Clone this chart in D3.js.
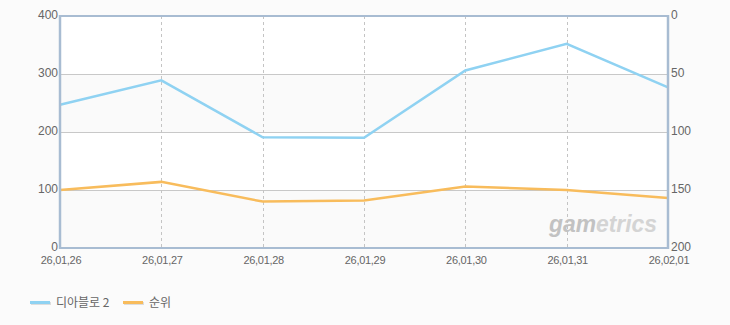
<!DOCTYPE html>
<html>
<head>
<meta charset="utf-8">
<script src="https://cdn.jsdelivr.net/npm/d3@7"></script>
<style>
  body { margin: 0; background: #fbfbfb; }
  svg { display: block; font-family: "Liberation Sans", Arial, sans-serif; }
</style>
</head>
<body>
<svg width="730" height="325"></svg>
<script>
// chart data
var dates = ["26,01,26", "26,01,27", "26,01,28", "26,01,29", "26,01,30", "26,01,31", "26,02,01"];
var players = [247, 289, 191, 190, 306, 352, 277];   // left axis
var ranks = [150, 143, 160, 159, 147, 150, 157];     // right axis (reversed)
var leftTicks = [0, 100, 200, 300, 400];
var rightTicks = [0, 50, 100, 150, 200];
var seriesNames = ["디아블로 2", "순위"];

var svg = d3.select("svg");

var margin = { top: 16, right: 62, bottom: 77, left: 60 };
var plotWidth = 730 - margin.left - margin.right;
var plotHeight = 325 - margin.top - margin.bottom;

var x = d3.scalePoint().domain(dates).range([0, plotWidth]);
var yLeft = d3.scaleLinear().domain([0, 400]).range([plotHeight, 0]);
var yRight = d3.scaleLinear().domain([0, 200]).range([0, plotHeight]);

var plot = svg.append("g")
  .attr("transform", "translate(" + margin.left + "," + margin.top + ")");

// background + alternating bands
plot.append("rect").attr("width", plotWidth).attr("height", plotHeight).attr("fill", "#fff");
for (var i = 0; i < leftTicks.length - 1; i += 2) {
  plot.append("rect")
    .attr("x", 0).attr("width", plotWidth)
    .attr("y", yLeft(leftTicks[i + 1]))
    .attr("height", yLeft(leftTicks[i]) - yLeft(leftTicks[i + 1]))
    .attr("fill", "#fafafa");
}

// horizontal grid
plot.selectAll("line.hgrid").data(leftTicks.slice(1, -1)).enter().append("line")
  .attr("class", "hgrid")
  .attr("x1", 0).attr("x2", plotWidth)
  .attr("y1", function(d) { return Math.round(yLeft(d)) + 0.5; })
  .attr("y2", function(d) { return Math.round(yLeft(d)) + 0.5; })
  .attr("stroke", "#c8c8c8");

// vertical dashed grid
plot.selectAll("line.vgrid").data(dates.slice(1, -1)).enter().append("line")
  .attr("class", "vgrid")
  .attr("x1", function(d) { return Math.round(x(d)) + 0.5; })
  .attr("x2", function(d) { return Math.round(x(d)) + 0.5; })
  .attr("y1", 0).attr("y2", plotHeight)
  .attr("stroke", "#c4c4c4")
  .attr("stroke-dasharray", "3,3");

// watermark
var wm = plot.append("text")
  .attr("x", plotWidth - 11).attr("y", plotHeight - 16)
  .attr("text-anchor", "end")
  .attr("font-size", 24).attr("font-weight", "bold").attr("font-style", "italic")
  .attr("textLength", 108).attr("lengthAdjust", "spacingAndGlyphs");
wm.append("tspan").attr("fill", "#c2c2c2").text("gam");
wm.append("tspan").attr("fill", "#d4d4d4").text("etrics");

// lines
var lineLeft = d3.line()
  .x(function(d, i) { return x(dates[i]); })
  .y(function(d) { return yLeft(d); });
var lineRight = d3.line()
  .x(function(d, i) { return x(dates[i]); })
  .y(function(d) { return yRight(d); });

plot.append("path").datum(ranks)
  .attr("d", lineRight)
  .attr("fill", "none").attr("stroke", "#f8bc5c").attr("stroke-width", 2.5);
plot.append("path").datum(players)
  .attr("d", lineLeft)
  .attr("fill", "none").attr("stroke", "#8fd2f2").attr("stroke-width", 2.5);

// axes frame
var axisColor = "#a8bcd2";
plot.append("line").attr("x1", 0).attr("x2", 0).attr("y1", -1).attr("y2", plotHeight + 1)
  .attr("stroke", axisColor).attr("stroke-width", 2.5);
plot.append("line").attr("x1", plotWidth).attr("x2", plotWidth).attr("y1", -1).attr("y2", plotHeight + 1)
  .attr("stroke", axisColor).attr("stroke-width", 2.5);
plot.append("line").attr("x1", 0).attr("x2", plotWidth).attr("y1", 0).attr("y2", 0)
  .attr("stroke", axisColor).attr("stroke-width", 2);
plot.append("line").attr("x1", 0).attr("x2", plotWidth).attr("y1", plotHeight).attr("y2", plotHeight)
  .attr("stroke", axisColor).attr("stroke-width", 2);

// tick labels
var labelColor = "#666";
plot.selectAll("text.yl").data(leftTicks).enter().append("text")
  .attr("class", "yl")
  .attr("x", -2).attr("y", function(d) { return yLeft(d) + 3; })
  .attr("text-anchor", "end")
  .attr("font-size", 12).attr("fill", labelColor)
  .text(function(d) { return d; });

plot.selectAll("text.yr").data(rightTicks).enter().append("text")
  .attr("class", "yr")
  .attr("x", plotWidth + 3).attr("y", function(d) { return yRight(d) + 3; })
  .attr("font-size", 12).attr("fill", labelColor)
  .text(function(d) { return d; });

plot.selectAll("text.xl").data(dates).enter().append("text")
  .attr("class", "xl")
  .attr("x", function(d) { return x(d) + 1; })
  .attr("y", plotHeight + 16)
  .attr("text-anchor", "middle")
  .attr("font-size", 11).attr("fill", labelColor)
  .attr("letter-spacing", -0.3)
  .text(function(d) { return d; });

// legend
var legendColors = ["#8fd2f2", "#f8bc5c"];
var legendX = [30, 123];
var legend = svg.selectAll("g.legend").data(seriesNames).enter().append("g")
  .attr("class", "legend")
  .attr("transform", function(d, i) { return "translate(" + legendX[i] + ",301)"; });
legend.append("rect")
  .attr("x", 1).attr("y", 1).attr("width", 20).attr("height", 3)
  .attr("fill", "#ddd");
legend.append("rect")
  .attr("x", 0).attr("y", 0).attr("width", 20).attr("height", 3)
  .attr("fill", function(d, i) { return legendColors[i]; });
legend.append("text")
  .attr("x", 26).attr("y", 2).attr("dy", "0.35em")
  .attr("font-size", 12).attr("fill", "#666")
  .attr("font-family", "'Noto Sans CJK KR', sans-serif")
  .text(function(d) { return d; });
</script>
</body>
</html>
